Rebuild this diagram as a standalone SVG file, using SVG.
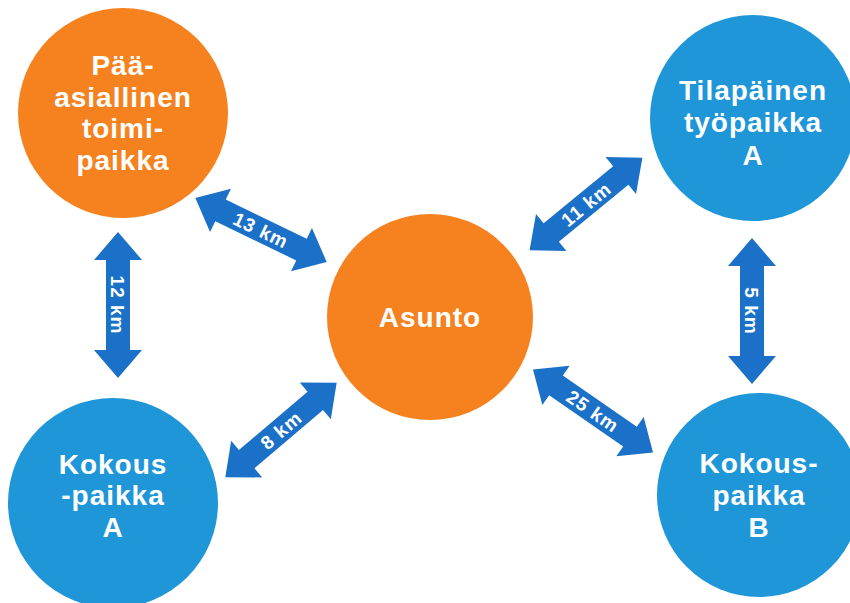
<svg xmlns="http://www.w3.org/2000/svg" xmlns:xlink="http://www.w3.org/1999/xlink" width="850" height="603" viewBox="0 0 850 603">
<style>
.orange{fill:#F5821F}
.blue{fill:#1E96D7}
.arrow{fill:#1B70C8}
.node{font-family:"Liberation Sans",Arial,sans-serif;font-weight:bold;font-size:28px;letter-spacing:1px;fill:#ffffff;text-anchor:middle}
.lbl{font-family:"Liberation Sans",Arial,sans-serif;font-weight:bold;font-size:19px;letter-spacing:1px;fill:#ffffff;text-anchor:middle}
</style>
<defs>
<path id="dbl" d="M -73 0 L -45 -24 L -45 -12 L 45 -12 L 45 -24 L 73 0 L 45 24 L 45 12 L -45 12 L -45 24 Z"/>
</defs>
<rect width="850" height="603" fill="#ffffff"/>
<g id="connectors">
<g transform="translate(261,230) rotate(25.9)"><use xlink:href="#dbl" class="arrow"/><text class="lbl" x="0" y="7">13 km</text></g>
<g transform="translate(118,305) rotate(90)"><use xlink:href="#dbl" class="arrow"/><text class="lbl" x="0" y="7">12 km</text></g>
<g transform="translate(281,430) rotate(-40.3)"><use xlink:href="#dbl" class="arrow"/><text class="lbl" x="0" y="7">8 km</text></g>
<g transform="translate(586,204) rotate(-39.4)"><use xlink:href="#dbl" class="arrow"/><text class="lbl" x="0" y="7">11 km</text></g>
<g transform="translate(593,411) rotate(34.7)"><use xlink:href="#dbl" class="arrow"/><text class="lbl" x="0" y="7">25 km</text></g>
<g transform="translate(752,311) rotate(90)"><use xlink:href="#dbl" class="arrow"/><text class="lbl" x="0" y="7">5 km</text></g>
</g>
<g id="paaasiallinen">
<circle class="orange" cx="123" cy="113" r="105"/>
<text class="node" x="123" y="75">Pää-</text>
<text class="node" x="123" y="107">asiallinen</text>
<text class="node" x="123" y="138">toimi-</text>
<text class="node" x="123" y="170">paikka</text>
</g>
<g id="tilapainen">
<circle class="blue" cx="753" cy="118" r="103"/>
<text class="node" x="753" y="100">Tilapäinen</text>
<text class="node" x="753" y="132">työpaikka</text>
<text class="node" x="753" y="165">A</text>
</g>
<g id="asunto">
<circle class="orange" cx="430" cy="317" r="103"/>
<text class="node" x="430" y="327">Asunto</text>
</g>
<g id="kokousA">
<circle class="blue" cx="113" cy="503" r="105"/>
<text class="node" x="113" y="474">Kokous</text>
<text class="node" x="113" y="505">-paikka</text>
<text class="node" x="113" y="537">A</text>
</g>
<g id="kokousB">
<circle class="blue" cx="759" cy="495" r="102"/>
<text class="node" x="759" y="473">Kokous-</text>
<text class="node" x="759" y="505">paikka</text>
<text class="node" x="759" y="537">B</text>
</g>
</svg>
